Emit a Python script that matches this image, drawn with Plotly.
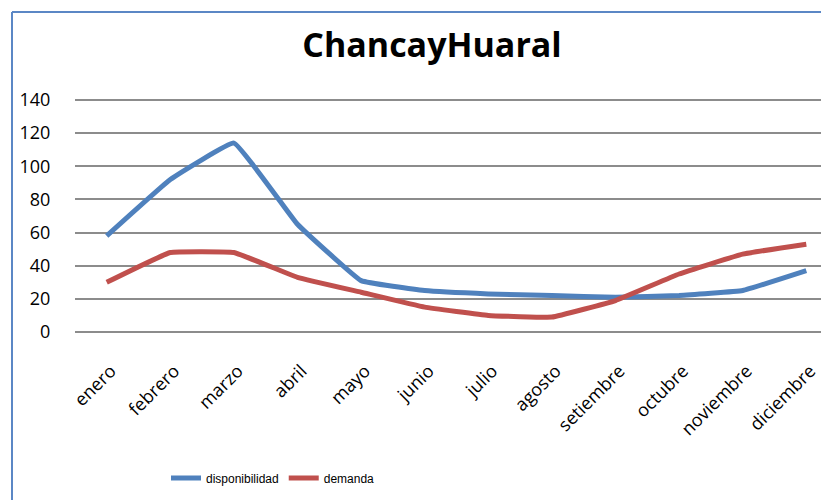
import plotly.graph_objects as go

meses = ["enero", "febrero", "marzo", "abril", "mayo", "junio", "julio",
         "agosto", "setiembre", "octubre", "noviembre", "diciembre"]
disponibilidad = [58, 92, 114, 65, 31, 25, 23, 22, 21, 22, 25, 37]
demanda = [30, 48, 48, 33, 24, 15, 10, 9, 19, 35, 47, 53]
y_ticks = [0, 20, 40, 60, 80, 100, 120, 140]

idx = list(range(len(meses)))

fig = go.Figure()
fig.add_trace(go.Scatter(x=idx, y=disponibilidad, mode="lines", name="disponibilidad",
                         line=dict(color="#4F81BD", width=5, shape="spline", smoothing=0.25)))
fig.add_trace(go.Scatter(x=idx, y=demanda, mode="lines", name="demanda",
                         line=dict(color="#C0504D", width=5, shape="spline", smoothing=0.25)))

# page is offset by the 8px body margin; work in figure coordinates
OFF = 8
W, H = 829, 500
L = 75 - OFF
T = 83 - OFF
zero_px = 332 - OFF
top_px = 100 - OFF
B = 140
plot_h = H - T - B
plot_w = W - L
ppu = (zero_px - top_px) / 140.0
y_top = 140 + (top_px - T) / ppu
y_bot = 0 - ((H - B) - zero_px) / ppu
px = 63.6
x_left = -((106.7 - OFF) - L) / px
x_right = x_left + plot_w / px

fig.update_layout(
    width=W, height=H,
    margin=dict(l=L, r=0, t=T, b=B, autoexpand=False),
    paper_bgcolor="white", plot_bgcolor="white",
    title=dict(text="<b>ChancayHuaral</b>", x=(432 - OFF) / W, xref="container", xanchor="center",
               y=1 - (45 - OFF) / H, yref="container", yanchor="middle",
               font=dict(family="Open Sans", size=34, color="black")),
    showlegend=True,
    legend=dict(orientation="h", x=((166 - OFF) - L) / plot_w, xanchor="left",
                y=-((478 - OFF) - (H - B)) / plot_h, yanchor="middle",
                font=dict(family="Liberation Sans", size=12, color="black"),
                bgcolor="rgba(0,0,0,0)"),
    xaxis=dict(range=[x_left, x_right], tickmode="array", tickvals=idx, ticktext=meses,
               tickangle=-45, showgrid=False, zeroline=False, showline=False,
               ticks="", ticklabelstandoff=-12, ticklabelshift=4,
               tickfont=dict(family="Open Sans", size=18, color="black")),
    yaxis=dict(range=[y_bot, y_top], tickmode="array", tickvals=y_ticks,
               showgrid=True, gridcolor="#8C8C8C", gridwidth=2, zeroline=False,
               showline=False, ticks="outside", ticklen=20, tickcolor="rgba(0,0,0,0)",
               tickfont=dict(family="Open Sans", size=18, color="black")),
)

# chart frame (top and left edges visible)
x_frame = ((12 - OFF) - L) / plot_w
y_frame = ((H - B) - (12 - OFF)) / plot_h
fig.add_shape(type="line", xref="paper", yref="paper", x0=x_frame, x1=1.05,
              y0=y_frame, y1=y_frame, line=dict(color="#5B87C5", width=2))
fig.add_shape(type="line", xref="paper", yref="paper", x0=x_frame, x1=x_frame,
              y0=y_frame, y1=-1.0, line=dict(color="#5B87C5", width=2))

fig.write_html("out.html")
